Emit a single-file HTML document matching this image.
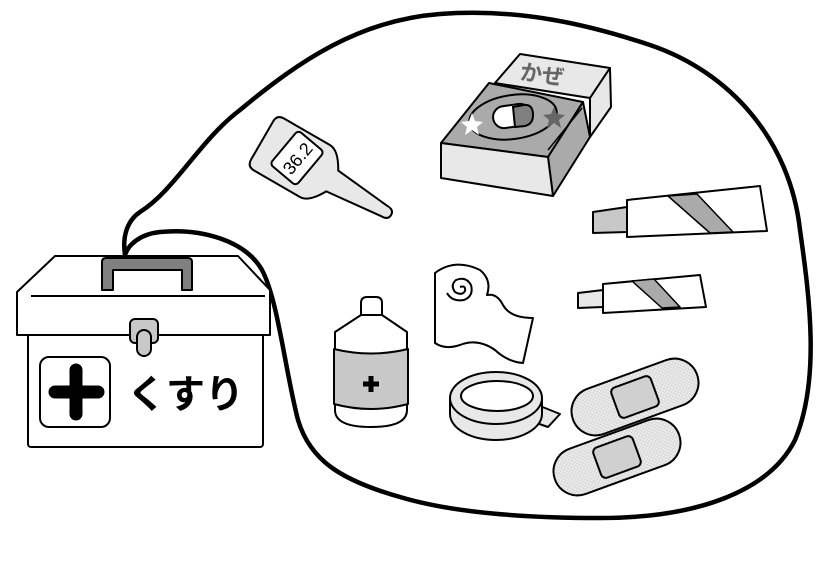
<!DOCTYPE html>
<html><head><meta charset="utf-8"><style>
html,body{margin:0;padding:0;background:#fff;}
svg{display:block;}
text{font-family:"Liberation Sans","Noto Sans CJK JP",sans-serif;}
</style></head><body>
<svg width="840" height="568" viewBox="0 0 840 568" xmlns="http://www.w3.org/2000/svg">
<defs>
<pattern id="mesh" width="4" height="4" patternUnits="userSpaceOnUse">
<rect width="4" height="4" fill="#ececec"/>
<path d="M0 0L4 4M4 0L0 4" stroke="#c8c8c8" stroke-width="0.5"/>
</pattern>
</defs>
<!-- blob -->
<path d="M125,255 C122,235 128,220 140,212 C175,190 200,140 240,110 C300,60 360,20 440,14 C520,8 590,25 650,45 C730,72 790,140 800,230 C810,300 820,380 795,440 C770,490 700,518 600,518 C520,518 450,512 400,497 C340,480 310,460 298,420 C285,370 278,300 262,270 C245,240 200,228 160,232 C140,234 128,245 125,255 Z" fill="#fff" stroke="#000" stroke-width="4.5"/>

<!-- toolbox -->
<g stroke="#000" stroke-width="2" stroke-linejoin="round">
<rect x="28" y="318" width="235" height="129" fill="#fff" rx="3"/>
<path d="M55,256 L238,256 L270,290 L270,335 L17,335 L17,292 Z" fill="#fff"/>
<line x1="31" y1="296" x2="265" y2="296"/>
<path d="M102,290 L102,262 Q102,258 106,258 L188,258 Q192,258 192,262 L192,290 L182,290 L182,270 L113,270 L113,290 Z" fill="#808080"/>
<rect x="130" y="319" width="28" height="24" rx="5" fill="#c8c8c8"/>
<rect x="137" y="330" width="14" height="26" rx="7" fill="#c8c8c8"/>
<rect x="40" y="357" width="70" height="70" rx="9" fill="#fff"/>
</g>
<path d="M76,370 L76,414 M55,392 L98,392" stroke="#000" stroke-width="13" stroke-linecap="round"/>
<text x="127" y="408" font-size="39" font-weight="bold" fill="#000">くすり</text>

<!-- thermometer -->
<g transform="translate(308,167) rotate(-60)">
<path d="M-30,-45 Q-30,-53 -22,-53 L22,-53 Q30,-53 30,-45 L30,8 Q30,18 12,28 L6,88 Q6,96 0,96 Q-6,96 -6,88 L-12,28 Q-30,18 -30,8 Z" fill="#e8e8e8" stroke="#000" stroke-width="2"/>
</g>
<g transform="translate(297,158) rotate(-50)">
<rect x="-22" y="-17" width="44" height="34" rx="4" fill="#fff" stroke="#000" stroke-width="2"/>
<text x="0" y="7" font-size="18" text-anchor="middle" fill="#000">36.2</text>
</g>

<!-- kaze box -->
<g stroke="#000" stroke-width="2" stroke-linejoin="round">
<polygon points="520,54 610,68 590,98 495,83" fill="#e8e8e8"/>
<polygon points="590,98 610,68 611,107 590,137" fill="#e8e8e8"/>
<polygon points="489,83 583,102 548,157 441,143" fill="#aaa"/>
<polygon points="583,102 590,137 553,196 548,157" fill="#aaa"/>
<polygon points="441,143 548,157 553,196 441,178" fill="#e8e8e8"/>
<line x1="582" y1="108" x2="548" y2="150" stroke-width="1.5"/>
<ellipse cx="513" cy="117" rx="44" ry="22" transform="rotate(-8 513 117)" fill="#aaa"/>
<rect x="493" y="105" width="38" height="22" rx="11" fill="#fff" transform="rotate(-8 512 116)"/>
</g>
<path d="M513,107 L524,105 Q533,104 533,115 Q533,124 525,126 L515,127 Z" fill="#808080" stroke="#000" stroke-width="2"/>
<polygon points="472,113 475,121 483,122 477,127 479,135 472,130 465,135 467,127 461,122 469,121" fill="#fff"/>
<polygon points="554,107 557,114 565,115 559,120 561,128 554,123 547,128 549,120 543,115 551,114" fill="#666"/>
<text x="520" y="82" font-size="22" font-weight="bold" fill="#666" transform="rotate(8 540 75)">かぜ</text>

<!-- tube1 -->
<g stroke="#000" stroke-width="2" stroke-linejoin="round">
<polygon points="593,212 627,207 627,232 593,233" fill="#c8c8c8"/>
<polygon points="627,200 760,186 767,231 627,237" fill="#fff"/>
<polygon points="668,196 697,194 733,232 710,233" fill="#aaa" stroke-width="1.5"/>
<!-- tube2 -->
<polygon points="578,293 603,290 603,307 578,308" fill="#e8e8e8"/>
<polygon points="603,284 700,275 706,307 603,313" fill="#fff"/>
<polygon points="632,281 654,279 680,307 662,308" fill="#aaa" stroke-width="1.5"/>
</g>

<!-- bottle -->
<g stroke="#000" stroke-width="2" stroke-linejoin="round">
<path d="M361,315 L361,303 Q361,297 367,297 L376,297 Q382,297 382,303 L382,315 L407,332 L407,410 Q407,427 371,427 Q335,427 335,410 L335,332 Z" fill="#fff"/>
<line x1="361" y1="315" x2="382" y2="315"/>
<path d="M334,349 Q371,358 408,349 L408,404 Q371,414 334,404 Z" fill="#c8c8c8"/>
</g>
<path d="M371,376 L371,392 M363,384 L379,384" stroke="#000" stroke-width="5"/>

<!-- bandage roll -->
<g stroke="#000" stroke-width="2" fill="#fff" stroke-linejoin="round">
<path d="M435,273 Q455,258 480,270 Q492,280 487,295 Q497,293 503,305 Q510,318 533,318 L523,363 Q508,362 495,350 Q478,338 460,345 Q445,350 435,343 Z"/>
<path d="M460,287 Q466,285 465,291 Q462,296 455,292 Q450,285 456,280 Q466,276 471,285 Q474,296 464,300 Q452,302 447,293" fill="none"/>
</g>

<!-- tape -->
<g stroke="#000" stroke-width="2" stroke-linejoin="round">
<polygon points="530,402 560,414 548,427 522,418" fill="#e8e8e8"/>
<path d="M450,398 L450,414 A46,26 0 0 0 542,414 L542,398" fill="#e8e8e8"/>
<ellipse cx="496" cy="398" rx="46" ry="26" fill="#e8e8e8"/>
<ellipse cx="497" cy="396" rx="36" ry="15" fill="#fff"/>
</g>

<!-- bandaids -->
<g stroke="#000" stroke-width="2">
<g transform="translate(635,397) rotate(-20)">
<rect x="-66" y="-24" width="132" height="48" rx="24" fill="url(#mesh)"/>
<rect x="-21" y="-16" width="42" height="32" rx="5" fill="#d0d0d0"/>
</g>
<g transform="translate(617,457) rotate(-20)">
<rect x="-66" y="-24" width="132" height="48" rx="24" fill="url(#mesh)"/>
<rect x="-21" y="-16" width="42" height="32" rx="5" fill="#d0d0d0"/>
</g>
</g>
</svg>
</body></html>
